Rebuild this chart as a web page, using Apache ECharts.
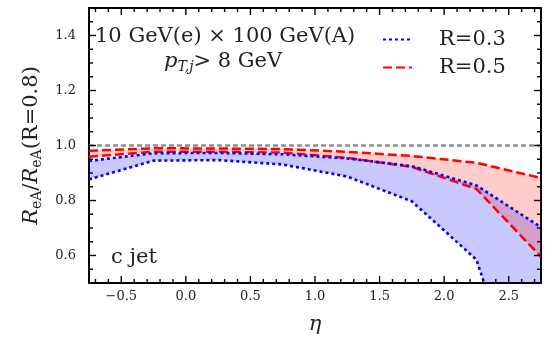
<!DOCTYPE html>
<html>
<head>
<meta charset="utf-8">
<script src="https://cdn.jsdelivr.net/npm/echarts@6/dist/echarts.min.js"></script>
<style>
html,body{margin:0;padding:0;background:#fff;}
#chart{width:549px;height:339px;}
</style>
</head>
<body>
<div id="chart"></div>
<script>
// ---- data ----
const eta = [-0.75, -0.25, 0.25, 0.75, 1.25, 1.75, 2.25, 2.75];
const blueUpper = [0.944, 0.972, 0.973, 0.968, 0.953, 0.925, 0.855, 0.703];
const blueLower = [0.877, 0.945, 0.947, 0.931, 0.887, 0.797, 0.585, -0.12];
const redUpper  = [0.981, 0.990, 0.989, 0.987, 0.977, 0.962, 0.937, 0.882];
const redLower  = [0.959, 0.977, 0.977, 0.974, 0.955, 0.922, 0.842, 0.595];
const refLevel = 1.0;
const xMajorTicks = [-0.5, 0.0, 0.5, 1.0, 1.5, 2.0, 2.5];
const xMinorTicks = [-0.7,-0.6,-0.4,-0.3,-0.2,-0.1,0.1,0.2,0.3,0.4,0.6,0.7,0.8,0.9,1.1,1.2,1.3,1.4,1.6,1.7,1.8,1.9,2.1,2.2,2.3,2.4,2.6,2.7];
const yMajorTicks = [0.6, 0.8, 1.0, 1.2, 1.4];
const yMinorTicks = [0.55,0.65,0.7,0.75,0.85,0.9,0.95,1.05,1.1,1.15,1.25,1.3,1.35,1.45];
const X_MIN = -0.75, X_MAX = 2.75, Y_MIN = 0.5, Y_MAX = 1.5;

const SERIF = '"DejaVu Serif", serif';
const pair = (xs, ys) => xs.map((x, i) => [x, ys[i]]);

function bandItem(upper, lower, color) {
  return function (params, api) {
    const pts = [];
    for (let i = 0; i < eta.length; i++) pts.push(api.coord([eta[i], upper[i]]));
    for (let i = eta.length - 1; i >= 0; i--) pts.push(api.coord([eta[i], lower[i]]));
    return { type: 'polygon', shape: { points: pts }, style: { fill: color, stroke: 'none' } };
  };
}
function xTickItem(len) {
  return function (params, api) {
    const v = api.value(0);
    const b = api.coord([v, Y_MIN]);
    const t = api.coord([v, Y_MAX]);
    const st = { stroke: '#000', lineWidth: 1.4 };
    return { type: 'group', children: [
      { type: 'line', shape: { x1: b[0], y1: b[1], x2: b[0], y2: b[1] - len }, style: st },
      { type: 'line', shape: { x1: t[0], y1: t[1], x2: t[0], y2: t[1] + len }, style: st }
    ]};
  };
}
function yTickItem(len) {
  return function (params, api) {
    const v = api.value(1);
    const l = api.coord([X_MIN, v]);
    const r = api.coord([X_MAX, v]);
    const st = { stroke: '#000', lineWidth: 1.4 };
    return { type: 'group', children: [
      { type: 'line', shape: { x1: l[0], y1: l[1], x2: l[0] + len, y2: l[1] }, style: st },
      { type: 'line', shape: { x1: r[0], y1: r[1], x2: r[0] - len, y2: r[1] }, style: st }
    ]};
  };
}

const chart = echarts.init(document.getElementById('chart'), null, { renderer: 'canvas' });
const axisLine = { show: true, onZero: false, lineStyle: { color: '#000', width: 2 } };

const option = {
  animation: false,
  backgroundColor: '#fff',
  grid: { left: 89, right: 8, top: 8, bottom: 56, containLabel: false, outerBoundsMode: 'none' },
  xAxis: [
    { type: 'value', min: X_MIN, max: X_MAX, splitNumber: 7, position: 'bottom',
      axisLine: axisLine, axisTick: { show: false }, splitLine: { show: false },
      axisLabel: { show: true, showMinLabel: false, showMaxLabel: false, margin: 7,
        fontFamily: SERIF, fontSize: 13, color: '#222',
        formatter: v => (v < 0 ? '\u2212' + Math.abs(v).toFixed(1) : v.toFixed(1)) },
      name: 'η', nameLocation: 'middle', nameGap: 31,
      nameTextStyle: { fontFamily: SERIF, fontStyle: 'italic', fontSize: 21, color: '#222' } },
    { type: 'value', min: X_MIN, max: X_MAX, position: 'top',
      axisLine: axisLine, axisTick: { show: false }, axisLabel: { show: false }, splitLine: { show: false } }
  ],
  yAxis: [
    { type: 'value', min: Y_MIN, max: Y_MAX, splitNumber: 5, position: 'left',
      axisLine: axisLine, axisTick: { show: false }, splitLine: { show: false },
      axisLabel: { show: true, showMinLabel: false, showMaxLabel: false, margin: 13,
        fontFamily: SERIF, fontSize: 13, color: '#222', formatter: v => v.toFixed(1) },
      name: '{i|R}{s|eA}{n|/}{i|R}{s|eA}{n|(R=0.8)}', nameLocation: 'middle', nameGap: 34, nameRotate: 90,
      nameTextStyle: { color: '#222', rich: {
        i: { fontFamily: SERIF, fontStyle: 'italic', fontSize: 21, lineHeight: 26, color: '#222' },
        s: { fontFamily: SERIF, fontSize: 14, lineHeight: 16, verticalAlign: 'bottom', color: '#222' },
        n: { fontFamily: SERIF, fontSize: 21, lineHeight: 26, color: '#222' }
      } } },
    { type: 'value', min: Y_MIN, max: Y_MAX, position: 'right',
      axisLine: axisLine, axisTick: { show: false }, axisLabel: { show: false }, splitLine: { show: false } }
  ],
  legend: {
    data: ['R=0.3', 'R=0.5'], orient: 'vertical', left: 377, top: 24,
    itemWidth: 29, itemHeight: 14, itemGap: 7,
    itemStyle: { color: 'rgba(0,0,0,0)', borderWidth: 0, opacity: 0 },
    textStyle: { fontFamily: SERIF, fontSize: 21, color: '#222', lineHeight: 21, padding: [0, 0, 0, 22] }
  },
  graphic: [
    { type: 'text', left: 95, top: 26, style: { text: '10 GeV(e) × 100 GeV(A)', font: '21px "DejaVu Serif"', fill: '#222' } },
    { type: 'text', left: 164, top: 51, style: {
        text: '{i|p}{s|T,j}{n|> 8 GeV}',
        rich: {
          i: { fontFamily: SERIF, fontStyle: 'italic', fontSize: 21, lineHeight: 25, fill: '#222' },
          s: { fontFamily: SERIF, fontStyle: 'italic', fontSize: 14, lineHeight: 15, verticalAlign: 'bottom', fill: '#222' },
          n: { fontFamily: SERIF, fontSize: 21, lineHeight: 25, fill: '#222' }
        } } },
    { type: 'text', left: 111, top: 247, style: { text: 'c jet', font: '21px "DejaVu Serif"', fill: '#222' } }
  ],
  series: [
    { name: 'bandBlue', type: 'custom', renderItem: bandItem(blueUpper, blueLower, 'rgba(0,0,255,0.21)'),
      data: [[X_MIN, Y_MIN]], clip: true, silent: true, z: 1 },
    { name: 'bandRed', type: 'custom', renderItem: bandItem(redUpper, redLower, 'rgba(255,0,0,0.2)'),
      data: [[X_MIN, Y_MIN]], clip: true, silent: true, z: 2 },
    { name: 'R=0.5', type: 'line', data: pair(eta, redUpper), symbol: 'none', z: 4,
      lineStyle: { color: '#ff0000', width: 2.5, type: [9, 4] }, itemStyle: { color: '#ff0000' },
      markLine: { silent: true, symbol: 'none', label: { show: false },
        lineStyle: { color: '#8f8f8f', type: [5, 3], width: 2.5 }, data: [{ yAxis: refLevel }] } },
    { name: 'R=0.5', type: 'line', data: pair(eta, redLower), symbol: 'none', z: 4,
      lineStyle: { color: '#ff0000', width: 2.5, type: [9, 4] }, itemStyle: { color: '#ff0000' } },
    { name: 'R=0.3', type: 'line', data: pair(eta, blueUpper), symbol: 'none', z: 5,
      lineStyle: { color: '#0000ff', width: 2.6, type: [3, 3] }, itemStyle: { color: '#0000ff' } },
    { name: 'R=0.3', type: 'line', data: pair(eta, blueLower), symbol: 'none', z: 5,
      lineStyle: { color: '#0000ff', width: 2.6, type: [3, 3] }, itemStyle: { color: '#0000ff' } },
    { name: 'xMajor', type: 'custom', renderItem: xTickItem(7), data: xMajorTicks.map(v => [v, Y_MIN]), z: 10, silent: true, clip: false },
    { name: 'xMinor', type: 'custom', renderItem: xTickItem(4), data: xMinorTicks.map(v => [v, Y_MIN]), z: 10, silent: true, clip: false },
    { name: 'yMajor', type: 'custom', renderItem: yTickItem(7), data: yMajorTicks.map(v => [X_MIN, v]), z: 10, silent: true, clip: false },
    { name: 'yMinor', type: 'custom', renderItem: yTickItem(4), data: yMinorTicks.map(v => [X_MIN, v]), z: 10, silent: true, clip: false }
  ]
};
chart.setOption(option);
</script>
</body>
</html>
